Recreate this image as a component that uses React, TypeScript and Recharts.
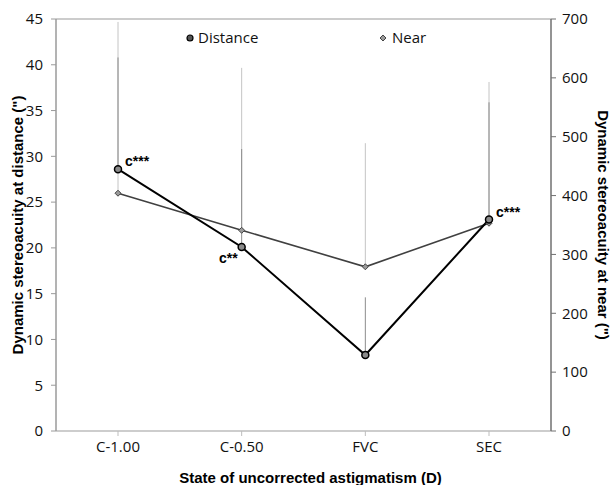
import {
  LineChart,
  Line,
  XAxis,
  YAxis,
  ErrorBar,
  ReferenceLine,
} from "recharts";

const categories = ["C-1.00", "C-0.50", "FVC", "SEC"];
const distance = [28.6, 20.1, 8.3, 23.1];
const distanceSd = [12.2, 10.7, 6.3, 12.8];
const near = [404, 341, 279, 353];
const nearSd = [291, 276, 210, 240];
const distanceLabels = ["c***", "c**", "", "c***"];
const leftTicks = [0, 5, 10, 15, 20, 25, 30, 35, 40, 45];
const rightTicks = [0, 100, 200, 300, 400, 500, 600, 700];

const data = categories.map((name, i) => ({
  name,
  distance: distance[i],
  distanceErr: [0, distanceSd[i]],
  near: near[i],
  nearErr: [0, nearSd[i]],
}));

const tickFont = { fontFamily: "Open Sans", fontSize: 15, fill: "#111" };
const titleFont = {
  fontFamily: "Liberation Sans",
  fontSize: 15,
  fontWeight: "bold" as const,
  fill: "#000",
};

// dots
const CircleDot = (props: any) => {
  const { cx, cy } = props;
  if (cx == null || cy == null) return null;
  return <circle cx={cx} cy={cy} r={3.5} fill="#8a8a8a" stroke="#000" strokeWidth={1.5} />;
};

const DiamondDot = (props: any) => {
  const { cx, cy } = props;
  if (cx == null || cy == null) return null;
  const s = 3;
  return (
    <path
      d={`M${cx},${cy - s} L${cx + s},${cy} L${cx},${cy + s} L${cx - s},${cy} Z`}
      fill="#9a9a9a"
      stroke="#444"
      strokeWidth={1}
    />
  );
};

const SigLabel = (props: any) => {
  const { x, y, index } = props;
  const text = distanceLabels[index];
  if (!text) return null;
  // C-0.50 label sits below left of its point, the rest above right
  const below = index === 1;
  return (
    <text
      x={below ? x - 4 : x + 7}
      y={below ? y + 16 : y - 3}
      textAnchor={below ? "end" : "start"}
      style={{ ...titleFont, fontSize: 14 }}
    >
      {text}
    </text>
  );
};

export default function App() {
  return (
    <div style={{ position: "absolute", left: 0, top: 0, width: 613, height: 485, background: "#fff" }}>
      <LineChart
        width={613}
        height={485}
        data={data}
        margin={{ top: 19, right: 0, bottom: 0, left: 0 }}
      >
        <XAxis
          dataKey="name"
          height={54}
          padding={{ left: 62, right: 62 }}
          tick={tickFont}
          tickSize={5}
          tickMargin={5}
          axisLine={{ stroke: "#bdbdbd", strokeWidth: 1.5 }}
          tickLine={{ stroke: "#bdbdbd" }}
          label={{
            value: "State of uncorrected astigmatism (D)",
            position: "insideBottom",
            offset: 2,
            dx: 7,
            style: titleFont,
          }}
        />
        <YAxis
          yAxisId="left"
          width={56}
          domain={[0, 45]}
          ticks={leftTicks}
          interval={0}
          tick={tickFont}
          tickSize={5}
          tickMargin={8}
          axisLine={{ stroke: "#9a9a9a", strokeWidth: 1.5 }}
          tickLine={{ stroke: "#9a9a9a" }}
          label={{
            value: "Dynamic stereoacuity at distance (\")",
            angle: -90,
            position: "center",
            dx: -10,
            style: { ...titleFont, textAnchor: "middle" },
          }}
        />
        <YAxis
          yAxisId="right"
          orientation="right"
          width={62}
          domain={[0, 700]}
          ticks={rightTicks}
          interval={0}
          tick={tickFont}
          tickSize={5}
          tickMargin={6}
          axisLine={{ stroke: "#707070", strokeWidth: 1.5 }}
          tickLine={{ stroke: "#707070" }}
          label={{
            value: "Dynamic stereoacuity at near (\")",
            angle: 90,
            position: "center",
            dx: 21,
            style: { ...titleFont, textAnchor: "middle" },
          }}
        />
        <ReferenceLine yAxisId="left" y={45} stroke="#9a9a9a" strokeWidth={1.2} />
        <Line
          yAxisId="right"
          dataKey="near"
          stroke="#404040"
          strokeWidth={1.6}
          dot={<DiamondDot />}
          activeDot={false}
          isAnimationActive={false}
        >
          <ErrorBar dataKey="nearErr" direction="y" width={0} stroke="#c4c4c4" strokeWidth={1} />
        </Line>
        <Line
          yAxisId="left"
          dataKey="distance"
          stroke="#000"
          strokeWidth={2}
          dot={<CircleDot />}
          activeDot={false}
          label={<SigLabel />}
          isAnimationActive={false}
        >
          <ErrorBar dataKey="distanceErr" direction="y" width={0} stroke="#8c8c8c" strokeWidth={1} />
        </Line>
      </LineChart>
      {/* legend */}
      <svg width={613} height={20} style={{ position: "absolute", left: 0, top: 28 }}>
        <circle cx={190} cy={10} r={3} fill="#555" stroke="#000" strokeWidth={1.2} />
        <text x={198} y={15} style={tickFont}>Distance</text>
        <path d="M383,7 L386,10 L383,13 L380,10 Z" fill="#9a9a9a" stroke="#444" strokeWidth={1} />
        <text x={392} y={15} style={tickFont}>Near</text>
      </svg>
    </div>
  );
}
